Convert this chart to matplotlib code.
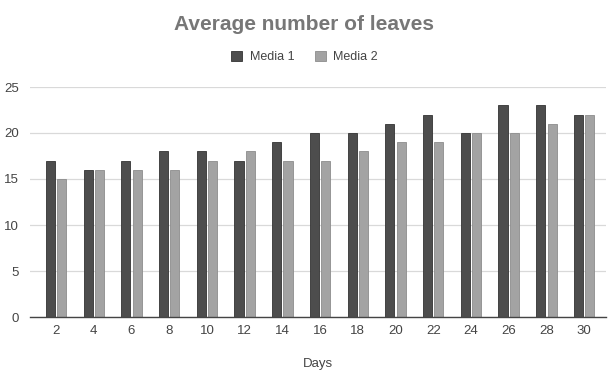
import numpy as np
import matplotlib.pyplot as plt

plt.rcParams['font.family'] = ['Liberation Sans', 'DejaVu Sans']

# Average leaf count per day for each growth medium
days = ['2', '4', '6', '8', '10', '12', '14', '16', '18', '20', '22', '24', '26', '28', '30']
media1 = [17, 16, 17, 18, 18, 17, 19, 20, 20, 21, 22, 20, 23, 23, 22]
media2 = [15, 16, 16, 16, 17, 18, 17, 17, 18, 19, 19, 20, 20, 21, 22]

x = np.arange(len(days))
w = 0.24
gap = 0.06

fig = plt.figure(figsize=(6.09, 3.71), dpi=100)
ax = fig.add_axes([30 / 609, 1 - 317 / 371, 576 / 609, 230 / 371])

ax.bar(x - (w + gap) / 2, media1, width=w, color='#4d4d4d', edgecolor='#333333',
       linewidth=0.6, label='Media 1', zorder=3)
ax.bar(x + (w + gap) / 2, media2, width=w, color='#a3a3a3', edgecolor='#8c8c8c',
       linewidth=0.6, label='Media 2', zorder=3)

ax.set_ylim(0, 25)
ax.set_yticks([0, 5, 10, 15, 20, 25])
ax.set_xlim(-0.69, 14.58)
ax.set_xticks(x)
ax.set_xticklabels(days)
ax.grid(axis='y', color='#d9d9d9', linewidth=0.9, zorder=0)
for s in ['top', 'right', 'left']:
    ax.spines[s].set_visible(False)
ax.spines['bottom'].set_color('#444444')
ax.spines['bottom'].set_linewidth(1.0)
ax.spines['bottom'].set_zorder(4)
ax.tick_params(axis='both', length=0, labelsize=9.5, colors='#444444')
ax.tick_params(axis='x', pad=6)
ax.tick_params(axis='y', pad=8)

ax.set_xlabel('Days', fontsize=9.5, color='#444444', labelpad=15)

fig.text(0.5, 1 - 25 / 371, 'Average number of leaves', ha='center', va='center',
         fontsize=15, fontweight='bold', color='#777777')
fig.legend(loc='center', bbox_to_anchor=(0.5, 1 - 57 / 371), ncol=2, frameon=False,
           fontsize=9, handlelength=0.9, handleheight=0.9, handletextpad=0.6,
           columnspacing=1.6, labelcolor='#444444')

fig.savefig('out.png', dpi=100)
